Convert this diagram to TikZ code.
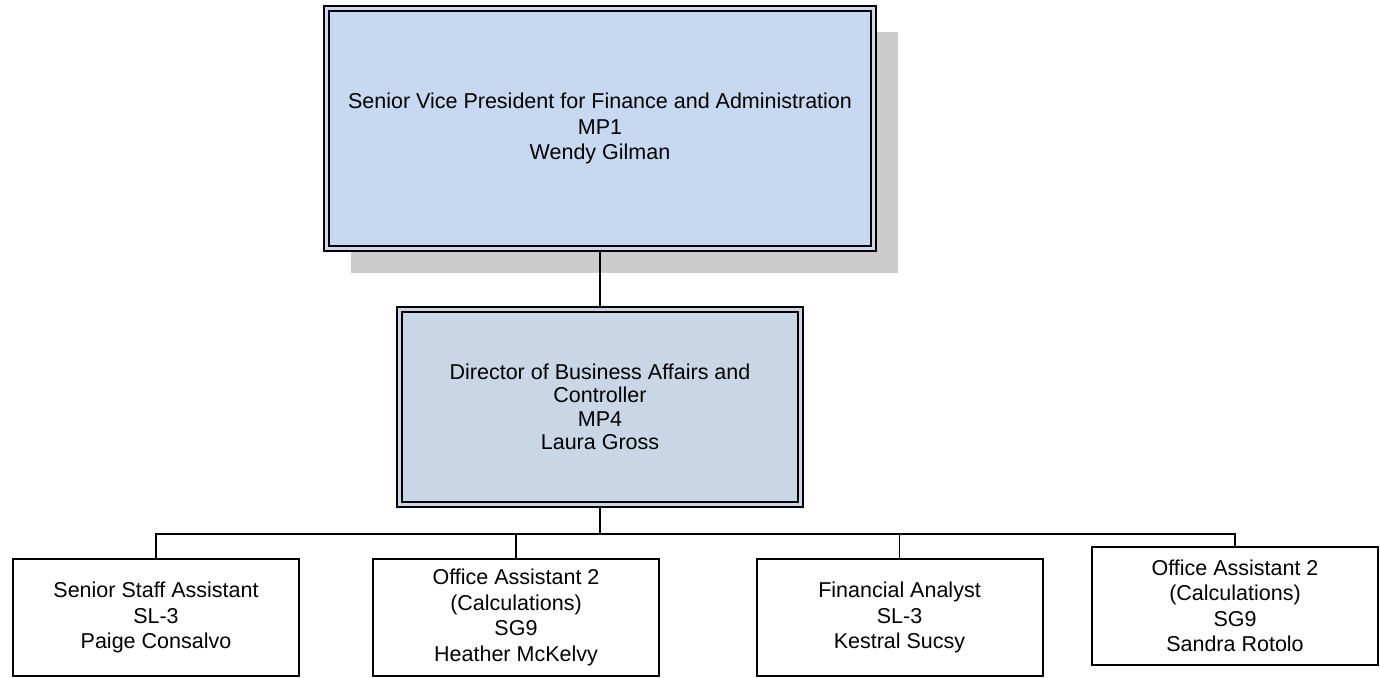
\documentclass[tikz,border=0pt]{standalone}
\usepackage{fontspec}
\setmainfont{Liberation Sans}
\usetikzlibrary{shadows}
\definecolor{vpblue}{HTML}{C6D9F1}
\definecolor{dirblue}{HTML}{C8D6E6}
\definecolor{shadowgrey}{HTML}{CCCCCC}

\begin{document}
\begin{tikzpicture}[x=1pt,y=-1pt,
  every node/.style={align=center,font=\fontsize{21.5}{25.5}\selectfont},
  head/.style={draw,double,line width=2.2pt,double distance=2.2pt},
  staff/.style={draw,line width=2pt,minimum width=286pt,minimum height=117pt},
  link/.style={line width=1.8pt}]
\useasboundingbox (0,0) rectangle (1380,679);

\node [head,fill=vpblue,double=vpblue,minimum width=547pt,minimum height=240pt,
  drop shadow={shadow xshift=24pt,shadow yshift=-24pt,fill=shadowgrey,opacity=1}]
  (vp) at (600,128.5) {Senior Vice President for Finance and Administration\\MP1\\Wendy Gilman};
\node [head,fill=dirblue,double=dirblue,minimum width=401pt,minimum height=195pt,
  font=\fontsize{21.5}{23.5}\selectfont]
  (dir) at (600,407) {Director of Business Affairs and\\Controller\\MP4\\Laura Gross};

\coordinate (bus) at (600,534);
\node [staff] (ssa) at (156,617.5) {Senior Staff Assistant\\SL-3\\Paige Consalvo};
\node [staff] (oa1) at (516,617.5) {Office Assistant 2\\(Calculations)\\SG9\\Heather McKelvy};
\node [staff] (fa)  at (899.5,617.5) {Financial Analyst\\SL-3\\Kestral Sucsy};
\node [staff,minimum height=118pt] (oa2) at (1235,606) {Office Assistant 2\\(Calculations)\\SG9\\Sandra Rotolo};

\draw [link] (vp) -- (dir);
\draw [link] (dir) -- (bus);
\foreach \n in {ssa,oa1,fa,oa2}
  \draw [link] (\n.north) |- (bus);
\end{tikzpicture}
\end{document}
